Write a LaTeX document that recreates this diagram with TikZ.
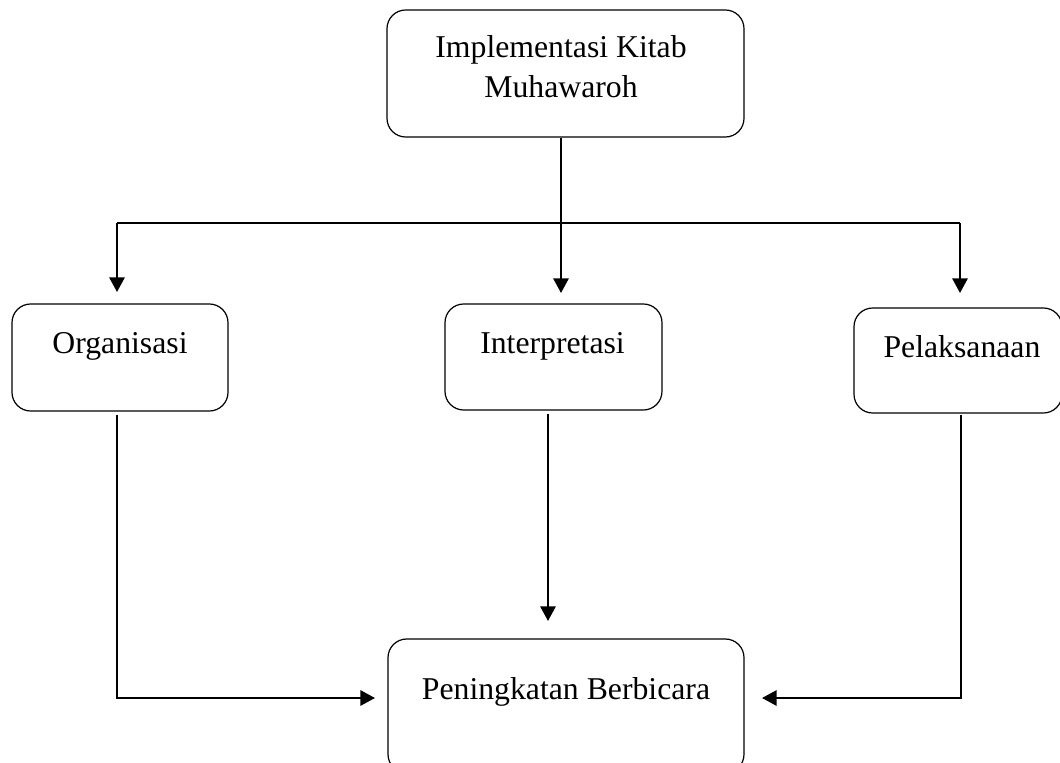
\documentclass[tikz,border=0pt]{standalone}
\usepackage{fontspec}
\setmainfont{Liberation Serif}
\usetikzlibrary{arrows.meta}
\tikzset{
  box/.style={draw=black, line width=0.9pt, rounded corners=14pt, inner sep=0pt},
  lbl/.style={font=\fontsize{23.8pt}{27.4pt}\selectfont, anchor=base, inner sep=0pt, align=center},
  conn/.style={line width=1.5pt},
  arr/.style={line width=1.5pt, -{Triangle[width=11.5pt,length=11pt]}}
}
\begin{document}
\begin{tikzpicture}[x=0.75pt,y=-0.75pt]
\clip (0,0) rectangle (1060,763);
\fill[white] (0,0) rectangle (1060,763);
% boxes
\node[box, minimum width=357*0.75pt, minimum height=127*0.75pt] (top) at (565.5,73.5) {};
\node[box, minimum width=216*0.75pt, minimum height=107*0.75pt] (org) at (120,357.5) {};
\node[box, minimum width=217*0.75pt, minimum height=106*0.75pt] (interp) at (553.5,357) {};
\node[box, minimum width=208*0.75pt, minimum height=105*0.75pt] (pel) at (958,360.5) {};
\node[box, minimum width=356*0.75pt, minimum height=134*0.75pt] (bot) at (566,706) {};
% labels
\node[lbl] (ttop1) at (561,58) {Implementasi Kitab};
\node[lbl] (ttop2) at (561,98) {Muhawaroh};
\node[lbl] (torg) at (120,353) {Organisasi};
\node[lbl] (tint) at (552.5,353) {Interpretasi};
\node[lbl] (tpel) at (962,357) {Pelaksanaan};
\node[lbl] (tbot) at (566,699) {Peningkatan Berbicara};
% connector coordinates
\coordinate (mtip) at (561,293);
\coordinate (hl) at (117,223);
\coordinate (hr) at (960,223);
\coordinate (ltip) at (117,292);
\coordinate (rtip) at (960,293);
\coordinate (obend) at (117,698);
\coordinate (btipL) at (375,698);
\coordinate (pbend) at (961,698);
\coordinate (btipR) at (762,698);
\coordinate (itip) at (548,621);
% connectors
\draw[arr] (mtip |- top.south) -- (mtip);
\draw[conn] (hl) -- (hr);
\draw[arr] (hl) -- (ltip);
\draw[arr] (hr) -- (rtip);
\draw[arr] ([yshift=-3*0.75pt]obend |- org.south) -- (obend) -- (btipL);
\draw[arr] ([yshift=-1*0.75pt]pbend |- pel.south) -- (pbend) -- (btipR);
\draw[arr] ([yshift=-3*0.75pt]itip |- interp.south) -- (itip);
\end{tikzpicture}
\end{document}
